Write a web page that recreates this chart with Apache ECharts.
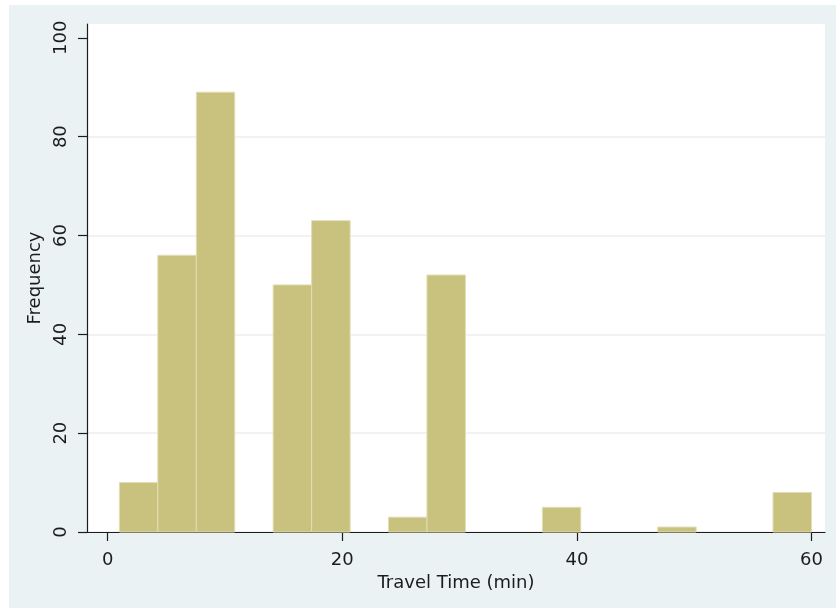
<!DOCTYPE html>
<html>
<head>
<meta charset="utf-8">
<script src="https://cdn.jsdelivr.net/npm/echarts@6/dist/echarts.min.js"></script>
<style>
  html, body { margin: 0; padding: 0; background: #ffffff; }
  #main-hist { position: absolute; left: 9px; top: 5px; width: 827px; height: 603px; }
</style>
</head>
<body>
<div id="main-hist"></div>
<script>
// Histogram bins (minutes) and counts
const binLeft = [1, 4.28, 7.56, 10.83, 14.11, 17.39, 20.67, 23.94, 27.22, 30.5, 33.78, 37.06, 40.33, 43.61, 46.89, 50.17, 53.44, 56.72];
const binRight = [4.28, 7.56, 10.83, 14.11, 17.39, 20.67, 23.94, 27.22, 30.5, 33.78, 37.06, 40.33, 43.61, 46.89, 50.17, 53.44, 56.72, 60];
const counts = [10, 56, 89, 0, 50, 63, 0, 3, 52, 0, 0, 5, 0, 0, 1, 0, 0, 8];

const xTicks = [0, 20, 40, 60];
const yTicks = [0, 20, 40, 60, 80, 100];

const FONT = "DejaVu Sans";
const INK = "#1c1c1c";

function renderHist() {
  const chart = echarts.init(document.getElementById('main-hist'));

  const data = binLeft.map((l, i) => [l, binRight[i], counts[i]]);

  const option = {
    backgroundColor: '#eaf2f3',
    animation: false,
    textStyle: { fontFamily: FONT },
    grid: {
      left: 78, top: 19, width: 738, height: 508,
      show: true, backgroundColor: '#ffffff', borderWidth: 0
    },
    xAxis: {
      type: 'value',
      min: -1.76,
      max: 61.15,
      name: 'Travel Time (min)',
      nameLocation: 'middle',
      nameGap: 36,
      nameTextStyle: { fontSize: 18, color: INK, fontFamily: FONT },
      axisLine: { onZero: false, lineStyle: { color: INK, width: 1.2 } },
      axisTick: { customValues: xTicks, length: 9, lineStyle: { color: INK, width: 1.2 } },
      axisLabel: { customValues: xTicks, fontSize: 18, color: INK, margin: 19, fontFamily: FONT },
      splitLine: { show: false }
    },
    yAxis: {
      type: 'value',
      min: 0,
      max: 102.8,
      interval: 20,
      name: 'Frequency',
      nameLocation: 'middle',
      nameRotate: 90,
      nameGap: 36,
      nameTextStyle: { fontSize: 18, color: INK, fontFamily: FONT },
      axisLine: { show: true, onZero: false, lineStyle: { color: INK, width: 1.2 } },
      axisTick: { show: true, customValues: yTicks, length: 9, lineStyle: { color: INK, width: 1.2 } },
      axisLabel: { customValues: yTicks, rotate: 90, fontSize: 18, color: INK, margin: 17, fontFamily: FONT },
      splitLine: { show: true, showMaxLine: false, lineStyle: { color: '#eeeeee', width: 1.5 } }
    },
    series: [
      {
        type: 'custom',
        data: data,
        encode: { x: [0, 1], y: 2 },
        renderItem: function (params, api) {
          const y = api.value(2);
          if (!y) return null;
          const p0 = api.coord([api.value(0), y]);
          const p1 = api.coord([api.value(1), 0]);
          return {
            type: 'rect',
            shape: { x: p0[0], y: p0[1], width: p1[0] - p0[0], height: p1[1] - p0[1] },
            style: { fill: '#c9c17e', stroke: '#e2ddb4', lineWidth: 1 }
          };
        }
      }
    ]
  };

  chart.setOption(option);
}

window.onload = renderHist;
</script>
</body>
</html>
